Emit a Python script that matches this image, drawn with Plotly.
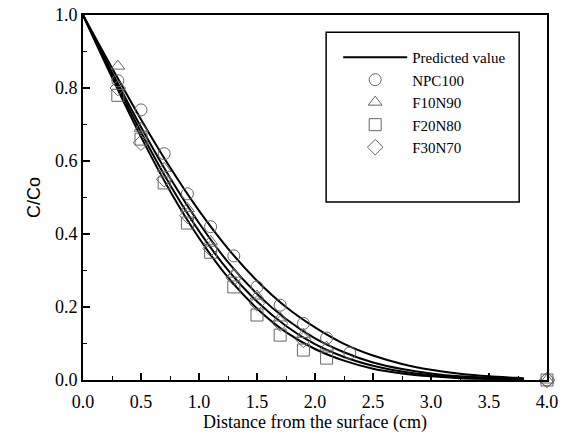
import plotly.graph_objects as go

# ---- data ----
curve_x = [0.0, 0.25, 0.5, 0.75, 1.0, 1.25, 1.5, 1.75, 2.0, 2.25, 2.5, 2.75, 3.0, 3.25, 3.5, 3.75, 3.8]
pred_npc100 = [1.0, 0.855, 0.714, 0.583, 0.464, 0.360, 0.272, 0.200, 0.144, 0.099, 0.067, 0.044, 0.028, 0.017, 0.010, 0.006, 0.005]
pred_f10n90 = [1.0, 0.843, 0.693, 0.554, 0.430, 0.323, 0.236, 0.167, 0.114, 0.076, 0.048, 0.030, 0.018, 0.010, 0.006, 0.003, 0.003]
pred_f30n70 = [1.0, 0.836, 0.679, 0.535, 0.408, 0.301, 0.215, 0.148, 0.098, 0.063, 0.039, 0.023, 0.013, 0.007, 0.004, 0.002, 0.002]
pred_f20n80 = [1.0, 0.829, 0.666, 0.518, 0.389, 0.281, 0.196, 0.131, 0.085, 0.053, 0.031, 0.018, 0.010, 0.005, 0.003, 0.001, 0.001]

x_npc100 = [0.3, 0.5, 0.7, 0.9, 1.1, 1.3, 1.5, 1.7, 1.9, 2.1, 2.3, 4.0]
y_npc100 = [0.82, 0.74, 0.62, 0.51, 0.42, 0.34, 0.255, 0.205, 0.155, 0.115, 0.074, 0.0]
x_f10n90 = [0.3, 0.5, 0.7, 0.9, 1.1, 1.3, 1.5, 1.7, 1.9, 2.1, 4.0]
y_f10n90 = [0.86, 0.69, 0.58, 0.47, 0.38, 0.29, 0.23, 0.17, 0.125, 0.09, 0.0]
x_f20n80 = [0.3, 0.5, 0.7, 0.9, 1.1, 1.3, 1.5, 1.7, 1.9, 2.1, 4.0]
y_f20n80 = [0.78, 0.66, 0.54, 0.43, 0.35, 0.255, 0.178, 0.123, 0.082, 0.06, 0.0]
x_f30n70 = [0.3, 0.5, 0.7, 0.9, 1.1, 1.3, 1.5, 1.7, 1.9, 4.0]
y_f30n70 = [0.80, 0.65, 0.55, 0.45, 0.36, 0.28, 0.21, 0.155, 0.11, 0.0]

x_ticks = [0.0, 0.5, 1.0, 1.5, 2.0, 2.5, 3.0, 3.5, 4.0]
y_ticks = [0.0, 0.2, 0.4, 0.6, 0.8, 1.0]

serif = "Liberation Serif, Times New Roman, serif"
fig = go.Figure()

curves = [pred_npc100, pred_f10n90, pred_f30n70, pred_f20n80]
for i, c in enumerate(curves):
    fig.add_trace(go.Scatter(
        x=curve_x, y=c, mode="lines", line=dict(color="black", width=2, shape="spline"),
        name="Predicted value", showlegend=(i == 0), legendrank=1,
    ))

mk_color = "#666666"
series = [
    ("NPC100", x_npc100, y_npc100, "circle-open"),
    ("F10N90", x_f10n90, y_f10n90, "triangle-up-open"),
    ("F20N80", x_f20n80, y_f20n80, "square-open"),
    ("F30N70", x_f30n70, y_f30n70, "diamond-open"),
]
for k, (name, xs, ys, sym) in enumerate(series):
    fig.add_trace(go.Scatter(
        x=xs, y=ys, mode="markers", name=name, cliponaxis=False, legendrank=2 + k,
        marker=dict(symbol=sym, size=12, color=mk_color, line=dict(width=1, color=mk_color)),
    ))

axis_common = dict(
    showline=True, linecolor="black", linewidth=2, mirror=True,
    ticks="inside", ticklen=7, tickwidth=1.5, tickcolor="black",
    showgrid=False, zeroline=False, ticklabeloverflow="allow", automargin=False,
    tickfont=dict(family=serif, size=18, color="black"),
)
fig.update_xaxes(
    range=[0, 4], tickvals=x_ticks, ticktext=[f"{v:.1f}" for v in x_ticks],
    ticklabelstandoff=4,
    title=dict(text="Distance from the surface (cm)", font=dict(family=serif, size=18, color="black"), standoff=5),
    minor=dict(ticks="inside", ticklen=4, dtick=0.25, tickcolor="black", tickwidth=1),
    **axis_common,
)
fig.update_yaxes(
    range=[0, 1], tickvals=y_ticks, ticktext=[f"{v:.1f}" for v in y_ticks],
    title=dict(text="C/Co", font=dict(family="Liberation Sans, Arial, sans-serif", size=18, color="black"), standoff=10),
    minor=dict(ticks="inside", ticklen=4, dtick=0.1, tickcolor="black", tickwidth=1),
    **axis_common,
)

fig.add_shape(type="rect", xref="paper", yref="paper",
              x0=0.524, x1=0.940, y0=0.488, y1=0.953,
              line=dict(color="black", width=1.5), fillcolor="rgba(0,0,0,0)")

fig.update_layout(
    width=573, height=434,
    margin=dict(l=83, r=26, t=15, b=54),
    paper_bgcolor="white", plot_bgcolor="white",
    legend=dict(x=0.55, y=0.929, xanchor="left", yanchor="top",
                bgcolor="rgba(0,0,0,0)", borderwidth=0,
                font=dict(family=serif, size=15, color="black"),
                itemwidth=64, tracegroupgap=0),
    showlegend=True,
)

fig.write_html("out.html", config={"displayModeBar": False},
               post_script="document.body.style.margin='0';")
